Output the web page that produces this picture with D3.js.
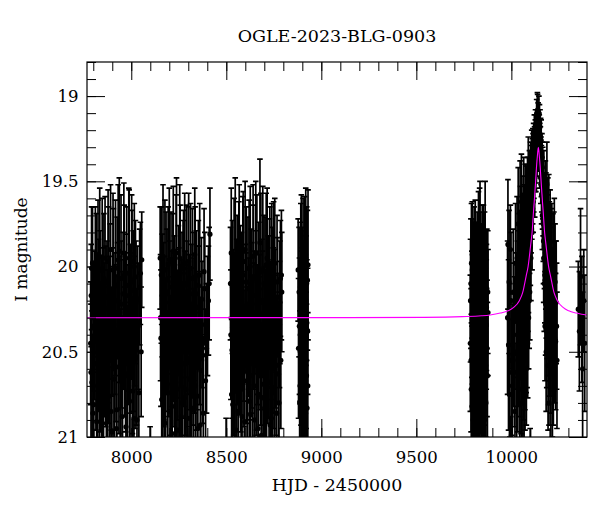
<!DOCTYPE html>
<html>
<head>
<meta charset="utf-8">
<script src="https://cdn.jsdelivr.net/npm/d3@7"></script>
<style>
  body { margin: 0; background: #fff; }
  text { font-family: "DejaVu Serif", serif; fill: #000; }
</style>
</head>
<body>
<svg></svg>
<script>
const title = "OGLE-2023-BLG-0903";
const x_label = "HJD - 2450000";
const y_label = "I magnitude";

const x_ticks = [8000, 8500, 9000, 9500, 10000];
const y_ticks = [19, 19.5, 20, 20.5, 21];

// [HJD - 2450000, I mag, error]
const season_1 = [
  [7786,20.45,0.36],[7789,20.17,0.30],[7793,20.68,0.42],[7796,19.98,0.33],[7800,20.35,0.38],
  [7803,20.81,0.45],[7806,20.22,0.31],[7811,20.05,0.40],[7814,20.57,0.39],[7818,20.91,0.48],
  [7821,20.28,0.34],[7825,19.93,0.32],[7829,20.44,0.41],[7832,20.73,0.44],[7836,20.15,0.36],
  [7840,20.39,0.30],[7843,21.05,0.50],[7847,20.02,0.42],[7851,20.26,0.37],[7854,20.62,0.40],
  [7858,20.33,0.35],[7862,19.95,0.36],[7865,20.51,0.43],[7869,20.87,0.46],[7872,20.18,0.33],
  [7876,20.41,0.39],[7880,20.09,0.44],[7884,20.76,0.42],[7887,20.30,0.36],[7891,19.90,0.38],
  [7895,20.55,0.41],[7898,20.97,0.49],[7902,20.24,0.35],[7906,20.13,0.47],[7909,20.66,0.40],
  [7913,20.37,0.38],[7917,20.01,0.40],[7920,20.48,0.43],[7924,20.84,0.45],[7928,20.20,0.34],
  [7931,19.96,0.44],[7935,20.59,0.39],[7939,20.31,0.37],[7942,21.10,0.52],[7946,20.07,0.49],
  [7950,20.43,0.40],[7954,20.71,0.42],[7957,20.16,0.36],[7961,19.92,0.41],[7965,20.50,0.38],
  [7968,20.27,0.35],[7972,20.94,0.47],[7976,20.11,0.46],[7980,20.64,0.41],[7983,20.36,0.37],
  [7987,20.04,0.50],[7991,20.79,0.44],[7995,20.23,0.36],[7998,20.47,0.39],[8002,19.97,0.39],
  [8006,20.58,0.40],[8010,20.14,0.35],[8014,20.89,0.46],[8018,20.32,0.38],[8022,20.06,0.33],
  [8027,20.53,0.40],[8033,20.19,0.31],[8040,20.74,0.42],[8048,20.04,0.30],[8055,19.96,0.28],
  [7788,20.62,0.40],[7791,20.01,0.36],[7798,20.86,0.46],[7808,20.40,0.38],[7816,20.10,0.41],
  [7823,20.70,0.43],[7827,20.20,0.36],[7834,19.94,0.40],[7838,20.56,0.41],[7845,20.32,0.37],
  [7849,20.92,0.48],[7856,20.07,0.38],[7860,20.48,0.40],[7867,20.25,0.37],[7874,20.78,0.44],
  [7878,19.97,0.42],[7882,20.52,0.40],[7889,20.14,0.39],[7893,20.85,0.46],[7900,20.38,0.38],
  [7904,20.02,0.45],[7911,20.60,0.41],[7915,20.28,0.36],[7922,20.95,0.49],[7926,20.11,0.40],
  [7933,20.45,0.39],[7937,19.91,0.43],[7944,20.67,0.42],[7948,20.22,0.37],[7952,20.88,0.46],
  [7959,20.34,0.38],[7963,20.05,0.41],[7970,20.57,0.40],[7974,20.17,0.36],[7978,20.80,0.45],
  [7985,20.41,0.38],[7989,19.95,0.40],[7993,20.63,0.42],[8000,20.29,0.37],[8004,20.09,0.42],
  [8008,20.73,0.43],[8012,20.46,0.39],[8016,20.00,0.37],[8020,20.55,0.40],[8025,20.21,0.36],
  [8030,20.90,0.47],[8036,20.35,0.37],[8044,20.12,0.34],[8052,20.50,0.38]
];

const season_2 = [
  [8099,21.40,0.46],
  [8152,19.95,0.30],[8156,20.42,0.40],[8160,20.78,0.44],[8163,20.17,0.36],[8167,19.94,0.42],
  [8171,20.55,0.39],[8175,20.29,0.35],[8179,20.92,0.48],[8183,20.08,0.40],[8186,20.38,0.37],
  [8190,20.69,0.43],[8194,19.99,0.34],[8198,20.47,0.41],[8202,20.21,0.36],[8206,20.85,0.46],
  [8209,20.12,0.44],[8213,20.60,0.40],[8217,20.33,0.38],[8221,19.91,0.38],[8225,20.52,0.42],
  [8229,20.98,0.50],[8232,20.25,0.35],[8236,20.03,0.45],[8240,20.72,0.43],[8244,20.40,0.37],
  [8248,20.14,0.38],[8252,20.63,0.41],[8255,19.95,0.43],[8259,20.35,0.36],[8263,20.88,0.47],
  [8267,20.19,0.39],[8271,20.49,0.40],[8275,20.01,0.34],[8279,20.77,0.44],[8283,20.28,0.37],
  [8286,20.57,0.42],[8290,20.10,0.46],[8294,21.04,0.51],[8298,20.37,0.38],[8302,19.97,0.40],
  [8306,20.45,0.39],[8310,20.66,0.42],[8314,20.22,0.35],[8318,20.83,0.45],[8322,20.07,0.41],
  [8326,20.53,0.40],[8330,20.31,0.36],[8334,19.93,0.39],[8338,20.70,0.43],[8342,20.16,0.37],
  [8346,20.44,0.40],[8350,20.95,0.48],[8355,20.24,0.36],[8360,20.05,0.42],[8366,20.61,0.41],
  [8372,20.34,0.37],[8379,20.86,0.45],[8387,20.13,0.33],[8396,20.48,0.38],[8406,20.20,0.32],
  [8414,19.81,0.27],
  [8154,20.30,0.37],[8158,20.05,0.40],[8165,20.64,0.42],[8169,20.22,0.36],[8173,20.90,0.47],
  [8177,20.02,0.41],[8181,20.46,0.39],[8188,20.15,0.37],[8192,20.74,0.44],[8196,20.36,0.38],
  [8200,19.96,0.42],[8204,20.58,0.41],[8211,20.27,0.36],[8215,20.82,0.45],[8219,20.09,0.40],
  [8223,20.41,0.38],[8227,20.18,0.36],[8234,20.68,0.43],[8238,19.92,0.44],[8242,20.50,0.40],
  [8246,20.96,0.49],[8250,20.26,0.37],[8257,20.04,0.40],[8261,20.61,0.41],[8265,20.33,0.37],
  [8269,20.80,0.45],[8273,20.12,0.39],[8277,20.43,0.39],[8281,19.98,0.41],[8288,20.72,0.43],
  [8292,20.21,0.36],[8296,20.54,0.40],[8300,20.08,0.43],[8304,20.89,0.47],[8308,20.30,0.37],
  [8312,20.01,0.38],[8316,20.65,0.42],[8320,20.39,0.38],[8324,20.16,0.36],[8328,20.84,0.46],
  [8332,20.47,0.39],[8336,20.06,0.41],[8340,20.56,0.40],[8344,20.24,0.36],[8348,20.76,0.44],
  [8353,20.11,0.38],[8358,20.42,0.39],[8363,20.93,0.48],[8369,20.19,0.36],[8376,20.52,0.40],
  [8383,20.03,0.37],[8391,20.67,0.42],[8401,20.29,0.35],[8410,20.10,0.33]
];

const season_3 = [
  [8499,21.35,0.46],
  [8522,20.10,0.33],[8526,19.92,0.38],[8530,20.49,0.40],[8534,20.81,0.45],[8537,20.26,0.36],
  [8541,20.03,0.43],[8545,20.62,0.41],[8549,20.37,0.37],[8553,20.96,0.49],[8557,20.10,0.40],
  [8560,20.43,0.38],[8564,20.74,0.44],[8568,19.96,0.44],[8572,20.30,0.36],[8576,20.56,0.41],
  [8580,20.19,0.39],[8583,20.88,0.47],[8587,20.05,0.46],[8591,20.41,0.38],[8595,20.67,0.42],
  [8599,19.90,0.40],[8603,20.27,0.35],[8607,20.52,0.40],[8610,21.02,0.51],[8614,20.13,0.42],
  [8618,20.39,0.37],[8622,20.79,0.44],[8626,20.00,0.47],[8630,20.46,0.40],[8634,20.22,0.36],
  [8638,20.64,0.42],[8641,19.94,0.42],[8645,20.35,0.37],[8649,20.90,0.48],[8653,20.17,0.38],
  [8657,20.58,0.41],[8661,20.08,0.50],[8665,20.42,0.39],[8669,20.75,0.43],[8673,20.29,0.36],
  [8677,19.86,0.49],[8680,20.53,0.40],[8684,20.99,0.50],[8688,20.21,0.37],[8692,20.02,0.49],
  [8696,20.69,0.42],[8700,20.38,0.38],[8704,20.11,0.40],[8708,20.60,0.41],[8712,20.84,0.45],
  [8715,19.95,0.41],[8719,20.32,0.36],[8723,20.50,0.39],[8727,20.16,0.44],[8731,20.93,0.48],
  [8735,20.40,0.38],[8739,20.06,0.43],[8743,20.71,0.43],[8747,20.25,0.36],[8751,20.55,0.40],
  [8755,19.98,0.38],[8760,20.44,0.39],[8765,20.86,0.46],[8770,20.18,0.35],[8775,20.63,0.41],
  [8780,20.34,0.37],[8785,20.07,0.34],[8790,20.05,0.38],
  [8524,20.40,0.38],[8528,20.75,0.44],[8532,20.12,0.39],[8539,20.58,0.41],[8543,20.30,0.37],
  [8547,19.93,0.45],[8551,20.66,0.42],[8555,20.20,0.36],[8562,20.85,0.46],[8566,20.04,0.42],
  [8570,20.48,0.39],[8574,20.14,0.38],[8578,20.72,0.43],[8585,20.35,0.37],[8589,19.97,0.41],
  [8593,20.54,0.40],[8597,20.91,0.48],[8601,20.23,0.36],[8605,20.09,0.44],[8612,20.62,0.41],
  [8616,20.32,0.37],[8620,20.01,0.40],[8624,20.50,0.40],[8628,20.87,0.47],[8632,20.16,0.38],
  [8636,20.44,0.39],[8643,20.07,0.43],[8647,20.70,0.43],[8651,20.27,0.36],[8655,19.92,0.42],
  [8659,20.56,0.40],[8663,20.37,0.38],[8667,20.95,0.49],[8671,20.13,0.39],[8678,20.45,0.39],
  [8682,20.03,0.46],[8686,20.77,0.44],[8690,20.28,0.37],[8694,20.60,0.41],[8698,20.10,0.40],
  [8702,20.83,0.45],[8706,20.40,0.38],[8710,19.99,0.42],[8717,20.52,0.40],[8721,20.19,0.37],
  [8725,20.68,0.42],[8729,20.06,0.41],[8733,20.34,0.37],[8737,20.89,0.47],[8741,20.15,0.38],
  [8745,20.47,0.39],[8749,20.02,0.40],[8753,20.74,0.43],[8757,20.26,0.36],[8762,20.58,0.41],
  [8767,20.09,0.39],[8772,20.42,0.38],[8777,20.80,0.44],[8782,20.21,0.36],[8787,20.55,0.40],
  [8792,20.15,0.35]
];

const season_4 = [
  [8878,20.02,0.30],[8885,20.35,0.40],[8888,20.70,0.44],[8890,20.12,0.38],[8893,20.52,0.41],
  [8895,19.98,0.40],[8897,20.88,0.47],[8900,20.25,0.36],[8902,20.60,0.42],[8904,20.05,0.45],
  [8906,20.42,0.38],[8909,20.97,0.50],[8911,20.18,0.39],[8913,20.76,0.43],[8916,20.30,0.37],
  [8918,19.95,0.41],[8920,20.55,0.40],[8923,20.10,0.45],[8925,20.83,0.46],[8928,20.38,0.37],
  [8930,19.99,0.44],
  [8880,20.48,0.41],[8883,20.15,0.38],[8886,20.80,0.45],[8889,20.40,0.39],[8892,20.05,0.42],
  [8894,20.66,0.42],[8896,20.28,0.37],[8899,20.92,0.48],[8901,20.16,0.39],[8903,20.50,0.40],
  [8905,20.74,0.43],[8908,20.22,0.37],[8910,20.58,0.41],[8912,20.03,0.44],[8915,20.45,0.39],
  [8917,20.86,0.46],[8919,20.20,0.38],[8922,20.64,0.42],[8924,20.33,0.37],[8927,20.08,0.41],
  [8929,20.70,0.43]
];

const season_5 = [
  [9785,20.20,0.36],[9788,20.55,0.42],[9790,19.98,0.35],[9793,20.82,0.47],[9795,20.31,0.38],
  [9798,20.05,0.33],[9800,20.66,0.43],[9803,20.14,0.40],[9805,20.93,0.50],[9808,20.40,0.39],
  [9810,19.95,0.34],[9813,20.58,0.41],[9815,20.24,0.37],[9818,20.75,0.45],[9820,20.08,0.40],
  [9823,20.47,0.40],[9825,21.00,0.52],[9828,20.18,0.38],[9830,20.62,0.42],[9833,19.92,0.38],
  [9835,20.00,0.50],[9838,20.36,0.39],[9840,20.85,0.47],[9843,20.11,0.36],[9845,20.51,0.41],
  [9848,20.28,0.38],[9850,20.70,0.44],[9853,20.03,0.39],[9855,20.44,0.40],[9858,20.90,0.49],
  [9860,20.22,0.37],[9862,19.86,0.36],[9865,20.58,0.42],[9868,20.34,0.38],[9871,20.13,0.35],
  [9874,20.64,0.43],[9877,20.27,0.37],
  [9784,20.45,0.40],[9787,20.10,0.38],[9789,20.72,0.44],[9792,20.28,0.37],[9794,20.02,0.40],
  [9797,20.60,0.41],[9799,20.90,0.48],[9802,20.35,0.38],[9804,20.06,0.41],[9807,20.68,0.43],
  [9809,20.20,0.37],[9812,20.84,0.46],[9814,20.42,0.39],[9817,20.12,0.38],[9819,20.54,0.40],
  [9822,20.30,0.37],[9824,20.78,0.45],[9827,19.96,0.40],[9829,20.38,0.38],[9832,20.96,0.50],
  [9834,20.26,0.38],[9837,20.57,0.41],[9839,20.10,0.42],[9842,20.46,0.40],[9844,20.74,0.44],
  [9847,20.04,0.40],[9849,20.32,0.37],[9852,20.88,0.47],[9854,20.18,0.38],[9857,20.52,0.41],
  [9859,20.07,0.39],[9863,20.40,0.39],[9866,20.80,0.45],[9869,20.24,0.37],[9872,20.48,0.40],
  [9876,20.15,0.36]
];

const season_6 = [
  [9982,19.87,0.38],[9985,20.46,0.50],[9988,20.09,0.42],[9992,20.55,0.45],[9995,19.90,0.26],
  [9997,21.30,0.42],[10001,20.62,0.37],[10005,20.70,0.48],[10010,20.15,0.37],[10016,20.50,0.44],
  [10022,19.98,0.35],[10028,20.62,0.46],[10032,20.25,0.40],
  [9980,20.30,0.45],[9990,20.75,0.44],[9998,20.20,0.40],[10013,20.40,0.42],[10019,20.85,0.40],
  [10025,20.32,0.40],[10030,19.95,0.36],[10034,20.55,0.42],
  [10036,19.75,0.33],[10039,20.40,0.42],[10041,20.05,0.36],[10044,20.72,0.40],[10046,19.68,0.30],
  [10049,20.28,0.38],[10051,20.58,0.40],[10053,19.62,0.28],[10055,20.80,0.35],[10057,20.12,0.36],
  [10059,19.90,0.32],[10061,20.66,0.38],[10063,20.35,0.37],[10065,19.58,0.22],[10067,20.76,0.32],
  [10069,20.00,0.34],[10071,20.48,0.36],[10073,19.70,0.30],[10075,20.22,0.33],[10077,19.55,0.15],
  [10079,20.60,0.33],[10081,19.84,0.30],[10083,20.38,0.33],[10085,19.62,0.26],[10087,20.08,0.30],
  [10089,19.48,0.24],[10091,20.30,0.30],[10093,19.75,0.26],[10095,19.52,0.20],[10097,20.15,0.28],
  [10099,21.35,0.40],[10099,19.66,0.23],[10101,19.42,0.15],[10103,19.95,0.25],[10105,19.58,0.20],
  [10107,19.38,0.18],[10109,19.80,0.22],[10111,19.50,0.16],[10113,19.33,0.14],
  [10038,20.15,0.36],[10043,20.50,0.38],[10048,19.85,0.32],[10052,20.65,0.38],[10054,20.25,0.35],
  [10058,20.45,0.36],[10062,19.75,0.28],[10064,20.55,0.35],[10068,20.25,0.34],[10070,19.80,0.28],
  [10072,20.62,0.34],[10076,19.95,0.30],[10078,20.40,0.34],[10080,19.66,0.25],[10082,20.15,0.30],
  [10084,19.90,0.28],[10086,20.45,0.32],[10088,19.70,0.24],[10090,20.00,0.27],[10092,19.58,0.22],
  [10094,20.20,0.28],[10096,19.80,0.24],[10098,19.60,0.20],[10100,19.88,0.23],[10102,19.50,0.18],
  [10104,19.72,0.20],[10106,19.46,0.17],[10108,19.65,0.19],[10110,19.40,0.15],[10112,19.58,0.17],
  [10114,19.36,0.14],
  [10115,19.62,0.18],[10117,19.28,0.12],[10119,19.45,0.15],[10121,19.22,0.11],[10123,19.55,0.16],
  [10125,19.30,0.12],[10127,19.18,0.10],[10129,19.42,0.14],[10131,19.20,0.09],[10133,19.12,0.10],
  [10135,19.35,0.12],[10137,19.16,0.18],[10138,19.08,0.09],[10140,19.25,0.11],[10141,19.14,0.10],
  [10143,19.32,0.12],[10145,19.10,0.10],[10147,19.22,0.11],[10149,19.40,0.14],[10151,19.18,0.10],
  [10153,19.30,0.12],[10155,19.48,0.15],[10157,19.26,0.12],[10159,19.58,0.17],[10161,19.36,0.14],
  [10163,19.70,0.20],[10165,19.46,0.16],
  [10116,19.40,0.14],[10118,19.52,0.16],[10120,19.35,0.13],[10122,19.30,0.12],[10124,19.42,0.14],
  [10126,19.25,0.11],[10128,19.32,0.12],[10130,19.28,0.12],[10132,19.38,0.13],[10134,19.20,0.10],
  [10136,19.27,0.11],[10139,19.18,0.10],[10142,19.22,0.10],[10144,19.20,0.10],[10146,19.30,0.12],
  [10148,19.15,0.10],[10150,19.28,0.12],[10152,19.35,0.13],[10154,19.24,0.11],[10156,19.38,0.14],
  [10158,19.44,0.15],[10160,19.52,0.16],[10162,19.42,0.15],[10164,19.60,0.18],[10166,19.55,0.17],
  [10167,19.62,0.20],[10169,19.85,0.25],[10171,19.50,0.18],[10173,20.10,0.28],[10175,19.72,0.24],
  [10177,20.35,0.32],[10179,19.60,0.22],[10181,19.95,0.30],[10183,20.50,0.35],[10185,19.78,0.27],
  [10187,19.52,0.25],[10189,20.22,0.32],[10191,19.88,0.30],[10193,20.58,0.38],[10195,20.02,0.30],
  [10197,19.70,0.24],[10198,20.80,0.13],[10199,20.40,0.36],[10201,20.12,0.32],[10204,19.85,0.30],
  [10207,20.48,0.38],[10210,20.20,0.34],[10213,19.95,0.32],[10216,20.60,0.40],[10219,20.05,0.36],
  [10222,20.35,0.38],[10226,19.90,0.30],[10230,20.09,0.34],[10233,20.44,0.40],[10236,20.21,0.36],
  [10240,20.55,0.40],
  [10168,19.75,0.22],[10170,19.95,0.26],[10172,19.68,0.22],[10174,19.88,0.25],[10176,20.05,0.28],
  [10178,19.82,0.26],[10180,20.22,0.30],[10182,19.70,0.25],[10184,20.12,0.30],[10186,20.38,0.33],
  [10188,19.92,0.28],[10190,20.05,0.30],[10192,19.75,0.27],[10194,20.30,0.34],[10196,20.45,0.36],
  [10200,19.92,0.30],[10202,20.30,0.34],[10205,20.10,0.33],[10208,20.62,0.40],[10211,19.98,0.32],
  [10214,20.40,0.36],[10218,20.25,0.36],[10221,20.55,0.38],[10224,20.00,0.32],[10228,20.42,0.38],
  [10232,20.20,0.35],[10238,20.35,0.37]
];

const season_7 = [
  [10352,20.25,0.28],[10358,20.38,0.35],[10364,20.06,0.40],[10371,20.31,0.37],
  [10375,20.60,0.45],[10381,20.20,0.30],[10386,20.45,0.40]
];

// microlensing model curve: [HJD - 2450000, I mag]
const model_curve = [
  [7760,20.300],[9142,20.2995],[9542,20.298],[9742,20.294],[9842,20.289],[9888,20.284],
  [9942,20.273],[9982,20.260],[10012,20.240],[10042,20.200],[10059,20.155],[10077,20.060],
  [10088,20.000],[10102,19.870],[10109,19.800],[10117,19.670],[10121,19.610],[10127,19.510],
  [10132,19.420],[10137,19.350],[10142,19.300],
  [10147,19.350],[10152,19.420],[10157,19.510],[10163,19.610],[10167,19.670],[10175,19.800],
  [10182,19.870],[10196,20.000],[10207,20.060],[10225,20.155],[10242,20.200],[10272,20.240],
  [10302,20.260],[10342,20.273],[10396,20.284],[10420,20.286]
];

const seasons = [season_1, season_2, season_3, season_4, season_5, season_6, season_7];

const width = 600, height = 512;
const margin = { left: 87, right: 13, top: 62, bottom: 75 };

const svg = d3.select("svg")
  .attr("width", width)
  .attr("height", height)
  .attr("viewBox", [0, 0, width, height]);

const x_scale = d3.scaleLinear().domain([7767, 10398]).range([margin.left, width - margin.right]);
const y_scale = d3.scaleLinear().domain([18.8, 21]).range([margin.top, height - margin.bottom]);

svg.append("defs").append("clipPath").attr("id", "plot_clip")
  .append("rect")
  .attr("x", margin.left).attr("y", margin.top)
  .attr("width", width - margin.left - margin.right)
  .attr("height", height - margin.top - margin.bottom);

const plot = svg.append("g").attr("clip-path", "url(#plot_clip)");

const points = seasons.flat();

// error bars
const cap = 2.8;
const bars = plot.append("g")
  .attr("stroke", "#000")
  .attr("stroke-width", 1.7)
  .attr("fill", "none");

bars.selectAll("path")
  .data(points)
  .join("path")
  .attr("d", (d) => {
    const x = x_scale(d[0]);
    const y0 = y_scale(d[1] - d[2]);
    const y1 = y_scale(d[1] + d[2]);
    return `M${x},${y0}V${y1}M${x - cap},${y0}H${x + cap}M${x - cap},${y1}H${x + cap}`;
  });

// data points
plot.append("g")
  .selectAll("circle")
  .data(points)
  .join("circle")
  .attr("cx", (d) => x_scale(d[0]))
  .attr("cy", (d) => y_scale(d[1]))
  .attr("r", 2.6)
  .attr("fill", "#000");

// model
const line_generator = d3.line()
  .x((d) => x_scale(d[0]))
  .y((d) => y_scale(d[1]))
  .curve(d3.curveMonotoneX);

plot.append("path")
  .attr("fill", "none")
  .attr("stroke", "#ff00ff")
  .attr("stroke-width", 1.1)
  .attr("d", line_generator(model_curve));

// axes: major and minor ticks on all four sides, pointing inward
const x_minor = d3.range(78, 104).map((v) => v * 100);
const y_minor = d3.range(188, 211).map((v) => v / 10);
const major = 18, minor = 9;

function style_axis(g) {
  g.select(".domain").remove();
  g.selectAll("line").attr("stroke", "#000");
  g.selectAll("text").style("font-family", "'DejaVu Serif', serif").style("font-size", "16.5px");
}

svg.append("g")
  .attr("transform", `translate(0,${height - margin.bottom})`)
  .call(d3.axisBottom(x_scale).tickValues(x_minor).tickSize(-minor).tickFormat(""))
  .call(style_axis);
svg.append("g")
  .attr("transform", `translate(0,${height - margin.bottom})`)
  .call(d3.axisBottom(x_scale).tickValues(x_ticks).tickSize(-major).tickPadding(14).tickFormat(d3.format("d")))
  .call(style_axis);
svg.append("g")
  .attr("transform", `translate(0,${margin.top})`)
  .call(d3.axisTop(x_scale).tickValues(x_minor).tickSize(-minor).tickFormat(""))
  .call(style_axis);
svg.append("g")
  .attr("transform", `translate(0,${margin.top})`)
  .call(d3.axisTop(x_scale).tickValues(x_ticks).tickSize(-major).tickFormat(""))
  .call(style_axis);

svg.append("g")
  .attr("transform", `translate(${margin.left},0)`)
  .call(d3.axisLeft(y_scale).tickValues(y_minor).tickSize(-minor).tickFormat(""))
  .call(style_axis);
svg.append("g")
  .attr("transform", `translate(${margin.left},0)`)
  .call(d3.axisLeft(y_scale).tickValues(y_ticks).tickSize(-major).tickPadding(8.5).tickFormat((d) => d))
  .call(style_axis);
svg.append("g")
  .attr("transform", `translate(${width - margin.right},0)`)
  .call(d3.axisRight(y_scale).tickValues(y_minor).tickSize(-minor).tickFormat(""))
  .call(style_axis);
svg.append("g")
  .attr("transform", `translate(${width - margin.right},0)`)
  .call(d3.axisRight(y_scale).tickValues(y_ticks).tickSize(-major).tickFormat(""))
  .call(style_axis);

// frame
svg.append("rect")
  .attr("x", margin.left)
  .attr("y", margin.top)
  .attr("width", width - margin.left - margin.right)
  .attr("height", height - margin.top - margin.bottom)
  .attr("fill", "none")
  .attr("stroke", "#000")
  .attr("stroke-width", 1.2);

// title
svg.append("text")
  .attr("x", (margin.left + width - margin.right) / 2)
  .attr("y", 41.5)
  .attr("text-anchor", "middle")
  .style("font-size", "17.5px")
  .text(title);

// x label
svg.append("text")
  .attr("x", (margin.left + width - margin.right) / 2)
  .attr("y", 491)
  .attr("text-anchor", "middle")
  .style("font-size", "17.4px")
  .text(x_label);

// y label
svg.append("text")
  .attr("text-anchor", "middle")
  .attr("transform", `translate(26.5,${(margin.top + height - margin.bottom) / 2}) rotate(-90)`)
  .style("font-size", "17px")
  .text(y_label);
</script>
</body>
</html>
